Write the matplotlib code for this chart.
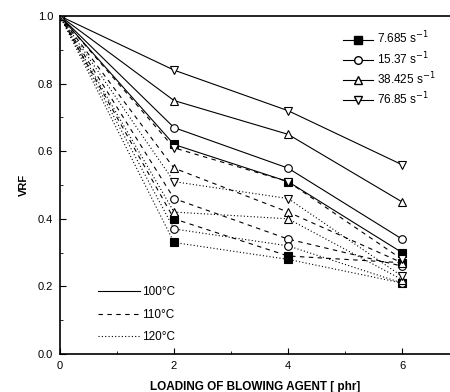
import matplotlib
matplotlib.use("Agg")
import matplotlib.pyplot as plt
from matplotlib.lines import Line2D

plt.rcParams['font.family'] = ['Liberation Sans', 'DejaVu Sans']

loading = [0, 2, 4, 6]
rates = ["7.685", "15.37", "38.425", "76.85"]
markers = ['s', 'o', '^', 'v']
temps = ["100°C", "110°C", "120°C"]

# VRF values per temperature, per shear rate (order of rates)
vrf_100 = [[1.0, 0.62, 0.51, 0.30],
           [1.0, 0.67, 0.55, 0.34],
           [1.0, 0.75, 0.65, 0.45],
           [1.0, 0.84, 0.72, 0.56]]
vrf_110 = [[1.0, 0.40, 0.29, 0.27],
           [1.0, 0.46, 0.34, 0.26],
           [1.0, 0.55, 0.42, 0.27],
           [1.0, 0.61, 0.51, 0.28]]
vrf_120 = [[1.0, 0.33, 0.28, 0.21],
           [1.0, 0.37, 0.32, 0.21],
           [1.0, 0.42, 0.40, 0.22],
           [1.0, 0.51, 0.46, 0.23]]

styles = ['-', (0, (4, 4)), (0, (1, 2))]

fig = plt.figure(figsize=(4.5, 3.92), dpi=100)
ax = fig.add_axes([0.1333, 0.097, 0.8667, 0.862])

for data, ls in zip([vrf_100, vrf_110, vrf_120], styles):
    for vals, m in zip(data, markers):
        ax.plot(loading, vals, linestyle=ls, color='black', linewidth=0.8,
                marker=m, markersize=5.5,
                markerfacecolor='black' if m == 's' else 'white',
                markeredgecolor='black', markeredgewidth=0.8)

ax.set_xlim(0, 6.84)
ax.set_ylim(0, 1.0)
ax.set_xticks([0, 2, 4, 6])
ax.set_xticks([1, 3, 5], minor=True)
ax.set_yticks([0.0, 0.2, 0.4, 0.6, 0.8, 1.0])
ax.set_yticklabels(["0.0", "0.2", "0.4", "0.6", "0.8", "1.0"])
ax.set_yticks([0.1, 0.3, 0.5, 0.7, 0.9], minor=True)
ax.tick_params(which='both', direction='in', labelsize=8, top=False, right=False)
ax.tick_params(which='major', length=4, pad=5)
ax.tick_params(which='minor', length=2.5)
ax.spines['right'].set_visible(False)
for s in ['left', 'bottom', 'top']:
    ax.spines[s].set_linewidth(1.2)

ax.set_xlabel("LOADING OF BLOWING AGENT [ phr]", fontsize=8.5, fontweight='bold', labelpad=7)
ax.set_ylabel("VRF", fontsize=8, fontweight='bold', labelpad=6)

h1 = [Line2D([0], [0], color='black', linewidth=0.8, marker=m, markersize=5.5,
             markerfacecolor='black' if m == 's' else 'white', markeredgecolor='black')
      for m in markers]
leg1 = ax.legend(h1, [r + " s$^{-1}$" for r in rates], loc='upper right',
                 bbox_to_anchor=(0.99, 0.99), frameon=False, fontsize=8.5,
                 handlelength=2.6, handletextpad=0.3, labelspacing=0.3)
ax.add_artist(leg1)

h2 = [Line2D([0], [0], color='black', linewidth=0.8, linestyle=ls) for ls in styles]
ax.legend(h2, temps, loc='lower left', bbox_to_anchor=(0.07, 0.0), frameon=False,
          fontsize=8.5, handlelength=3.6, handletextpad=0.1, labelspacing=0.9)

fig.savefig("out.png", dpi=100)
